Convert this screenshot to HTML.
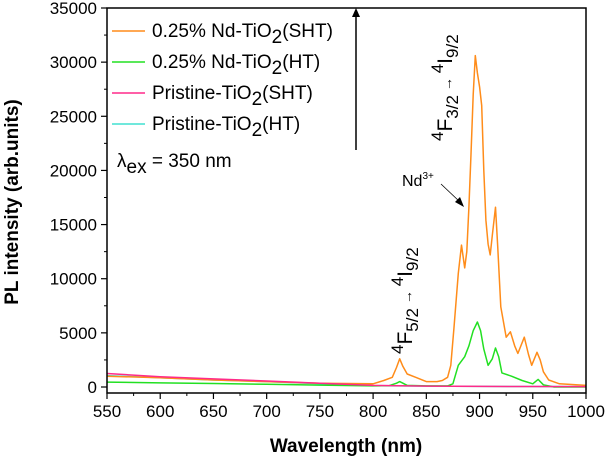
<!DOCTYPE html>
<html><head><meta charset="utf-8"><style>
body{margin:0;background:#fff}
svg{font-family:"Liberation Sans",Arial,sans-serif}
</style></head><body>
<svg width="606" height="459" viewBox="0 0 606 459" id="chart">
<g id="series"></g>
<g id="axes"></g>
<g font-size="19">
 <line x1="112" y1="31" x2="145" y2="31" stroke="#ff8c1a" stroke-width="1.5"/>
 <text x="152" y="37">0.25% Nd-TiO<tspan dy="6">2</tspan><tspan dy="-6">(SHT)</tspan></text>
 <line x1="112" y1="62" x2="145" y2="62" stroke="#22e022" stroke-width="1.5"/>
 <text x="152" y="68">0.25% Nd-TiO<tspan dy="6">2</tspan><tspan dy="-6">(HT)</tspan></text>
 <line x1="112" y1="93" x2="145" y2="93" stroke="#ff2a8a" stroke-width="1.5"/>
 <text x="152" y="99">Pristine-TiO<tspan dy="6">2</tspan><tspan dy="-6">(SHT)</tspan></text>
 <line x1="112" y1="124" x2="145" y2="124" stroke="#40e0d0" stroke-width="1.5"/>
 <text x="152" y="130">Pristine-TiO<tspan dy="6">2</tspan><tspan dy="-6">(HT)</tspan></text>
</g>
<text x="117" y="167" font-size="19">λ<tspan dy="6">ex</tspan><tspan dy="-6"> = 350 nm</tspan></text>
<line x1="356" y1="150" x2="356" y2="16" stroke="#000" stroke-width="1.5"/>
<polygon points="352,17 360,17 356,8" fill="#000"/>
<text transform="translate(452,141) rotate(-90)" font-size="21"><tspan font-size="17" dy="-9">4</tspan><tspan dy="9">F</tspan><tspan font-size="17" dy="6">3/2</tspan><tspan dy="-6" font-size="14"> → </tspan><tspan font-size="17" dy="-9">4</tspan><tspan dy="9">I</tspan><tspan font-size="17" dy="6">9/2</tspan></text>
<text transform="translate(412,354) rotate(-90)" font-size="21"><tspan font-size="17" dy="-9">4</tspan><tspan dy="9">F</tspan><tspan font-size="17" dy="6">5/2</tspan><tspan dy="-6" font-size="14"> → </tspan><tspan font-size="17" dy="-9">4</tspan><tspan dy="9">I</tspan><tspan font-size="17" dy="6">9/2</tspan></text>
<text x="402" y="186" font-size="16">Nd<tspan font-size="10" dy="-7">3+</tspan></text>
<line x1="441" y1="184" x2="460" y2="202" stroke="#000" stroke-width="0.8"/>
<polygon points="464,207 455,202 460,197" fill="#000"/>
<text transform="translate(18,202) rotate(-90)" text-anchor="middle" font-size="19" font-weight="bold">PL intensity (arb.units)</text>
<text x="346" y="452" text-anchor="middle" font-size="19" font-weight="bold">Wavelength (nm)</text>
</svg>
<script>
const xTicks=[550,600,650,700,750,800,850,900,950,1000];
const yTicks=[0,5000,10000,15000,20000,25000,30000,35000];
const wlOrange=[550,600,650,700,750,800,810,818,822,825,828,832,840,850,860,865,870,873,876,880,883,886,888,890,892,894,896,898,900,902,904,906,908,910,912,915,917,920,925,929,933,936,942,946,949,954,957,960,965,975,1000];
const valOrange=[1000,850,650,500,350,300,600,900,1800,2600,1900,1200,900,500,500,600,900,2000,5500,10500,13100,11000,12500,16600,21500,27000,30600,29000,27700,26000,20000,15400,13200,12200,14000,16600,13000,7400,4600,5100,3800,3100,4600,3000,2000,3200,2500,1400,650,300,150];
const wlGreen=[550,600,650,700,750,800,815,822,825,828,832,850,870,875,880,886,890,894,898,901,904,908,912,915,918,921,930,940,950,955,960,970,1000];
const valGreen=[450,380,320,250,180,100,120,350,500,350,150,100,100,300,2000,2800,3800,5200,6000,5200,3500,2000,2600,3600,2800,1300,1000,600,300,700,200,0,0];
const wlPinkS=[550,600,650,700,750,800,850,900,950,1000];
const valPinkS=[1250,950,750,550,350,150,80,60,50,40];
const wlCyan=[550,600,650,700,750,800,850,900,950,1000];
const valCyan=[1050,850,650,500,300,120,80,60,50,40];
const X0=107,X1=586,Y0=387,YT=8,BOT=393;
const sx=v=>X0+(v-550)/450*(X1-X0);
const sy=v=>Y0-v/35000*(Y0-YT);
const NS='http://www.w3.org/2000/svg';
const ser=document.getElementById('series'),ax=document.getElementById('axes');
function mk(t,a,p){const e=document.createElementNS(NS,t);for(const k in a)e.setAttribute(k,a[k]);p.appendChild(e);return e;}
function line(wl,v,c,name){
 const d=wl.map((w,i)=>(i?'L':'M')+sx(w).toFixed(1)+','+sy(v[i]).toFixed(1)).join(' ');
 const p=mk('path',{d:d,fill:'none',stroke:c,'stroke-width':1.5,'stroke-linejoin':'round'},ser);
 
 
}
line(wlCyan,valCyan,'#40e0d0','series-pristine-ht');
line(wlOrange,valOrange,'#ff8c1a','series-nd-sht');
line(wlGreen,valGreen,'#22e022','series-nd-ht');
line(wlPinkS,valPinkS,'#ff2a8a','series-pristine-sht');
const fr=mk('rect',{x:X0,y:YT,width:X1-X0,height:BOT-YT,fill:'none',stroke:'#000','stroke-width':1.5},ax);


xTicks.forEach((t,i)=>{
 mk('line',{x1:sx(t),y1:BOT,x2:sx(t),y2:BOT+6,stroke:'#000','stroke-width':1.2},ax);
 if(i<xTicks.length-1)mk('line',{x1:sx(t+25),y1:BOT,x2:sx(t+25),y2:BOT+3,stroke:'#000'},ax);
 const tx=mk('text',{x:sx(t),y:BOT+24,'text-anchor':'middle','font-size':17},ax);
 tx.textContent=t;
 
 
});
yTicks.forEach((t,i)=>{
 mk('line',{x1:X0,y1:sy(t),x2:X0-6,y2:sy(t),stroke:'#000','stroke-width':1.2},ax);
 if(i<yTicks.length-1)mk('line',{x1:X0,y1:sy(t+2500),x2:X0-3,y2:sy(t+2500),stroke:'#000'},ax);
 const tx=mk('text',{x:X0-10,y:sy(t)+6,'text-anchor':'end','font-size':17},ax);
 tx.textContent=t;
 
 
});
</script>
</body></html>
